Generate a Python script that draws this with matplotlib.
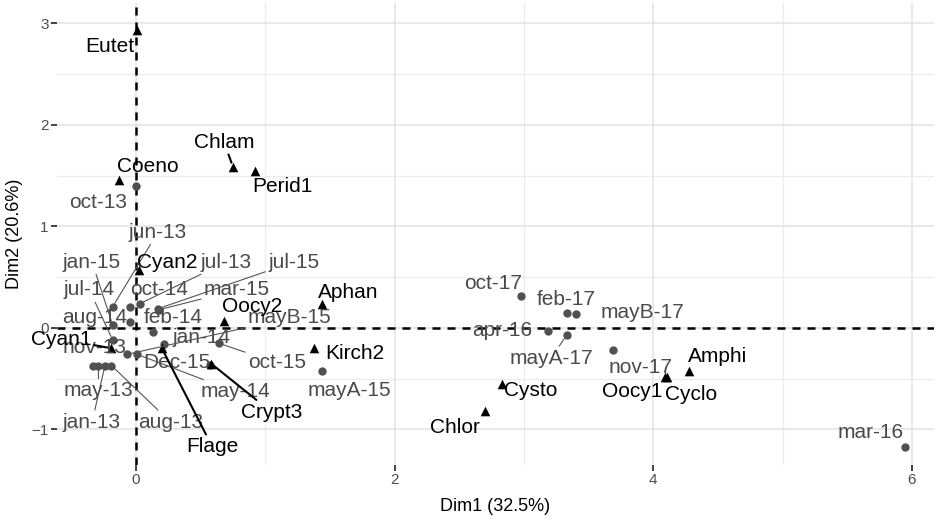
import matplotlib
matplotlib.use("Agg")
import matplotlib.pyplot as plt
import numpy as np

# ---------------- data ----------------
date_names = ["oct-13", "jun-13", "jan-15", "jul-14", "aug-14", "oct-14", "jul-13",
              "mar-15", "jul-15", "feb-14", "jan-14", "nov-13", "may-13", "jan-13",
              "aug-13", "Dec-15", "may-14", "mayB-15", "oct-15", "mayA-15",
              "oct-17", "feb-17", "mayB-17", "apr-16", "mayA-17", "nov-17", "mar-16"]
date_x = [0.00, -0.18, -0.18, -0.18, -0.05, -0.05, 0.03,
          0.18, 0.17, 0.13, 0.22, -0.33, -0.29, -0.24,
          -0.19, 0.57, 0.01, -0.07, 0.64, 1.44,
          2.98, 3.33, 3.40, 3.19, 3.33, 3.69, 5.95]
date_y = [1.40, 0.21, 0.03, -0.12, 0.06, 0.21, 0.24,
          0.18, 0.19, -0.04, -0.16, -0.37, -0.37, -0.37,
          -0.37, -0.36, -0.26, -0.26, -0.15, -0.42,
          0.32, 0.15, 0.14, -0.03, -0.07, -0.22, -1.17]

sp_names = ["Eutet", "Chlam", "Perid1", "Coeno", "Cyan2", "Oocy2", "Aphan", "Kirch2",
            "Cyan1", "Flage", "Crypt3", "Cysto", "Chlor", "Oocy1", "Cyclo", "Amphi"]
sp_x = [0.005, 0.75, 0.92, -0.13, 0.02, 0.68, 1.44, 1.38,
        -0.19, 0.20, 0.58, 2.83, 2.70, 4.09, 4.11, 4.28]
sp_y = [2.94, 1.59, 1.55, 1.46, 0.57, 0.07, 0.24, -0.20,
        -0.20, -0.20, -0.35, -0.55, -0.82, -0.48, -0.48, -0.42]

x_title = "Dim1 (32.5%)"
y_title = "Dim2 (20.6%)"
x_ticks = [0, 2, 4, 6]
y_ticks = [-1, 0, 1, 2, 3]

# ---------------- layout (label placement, like ggrepel) ----------------
date_lab = {"oct-13": (-0.29, 1.24), "jun-13": (0.17, 0.945), "jan-15": (-0.34, 0.65),
            "jul-14": (-0.36, 0.375), "aug-14": (-0.32, 0.10), "oct-14": (0.18, 0.375),
            "jul-13": (0.70, 0.65), "mar-15": (0.78, 0.375), "jul-15": (1.22, 0.65),
            "feb-14": (0.29, 0.10), "jan-14": (0.51, -0.09), "nov-13": (-0.32, -0.19),
            "may-13": (-0.29, -0.62), "jan-13": (-0.34, -0.93), "aug-13": (0.27, -0.93),
            "Dec-15": (0.32, -0.345), "may-14": (0.77, -0.63), "mayB-15": (1.19, 0.10),
            "oct-15": (1.09, -0.345), "mayA-15": (1.65, -0.62), "oct-17": (2.76, 0.44),
            "feb-17": (3.33, 0.285), "mayB-17": (3.92, 0.15), "apr-16": (2.83, -0.02),
            "mayA-17": (3.21, -0.30), "nov-17": (3.90, -0.385), "mar-16": (5.68, -1.03)}
sp_lab = {"Eutet": (-0.205, 2.77), "Chlam": (0.68, 1.83), "Perid1": (1.13, 1.39),
          "Coeno": (0.09, 1.59), "Cyan2": (0.24, 0.65), "Oocy2": (0.90, 0.21),
          "Aphan": (1.64, 0.345), "Kirch2": (1.69, -0.25), "Cyan1": (-0.58, -0.11),
          "Flage": (0.59, -1.17), "Crypt3": (1.05, -0.83), "Cysto": (3.05, -0.62),
          "Chlor": (2.47, -0.985), "Oocy1": (3.84, -0.63), "Cyclo": (4.29, -0.66),
          "Amphi": (4.50, -0.285)}
with_segment = {"jun-13", "jan-15", "jul-14", "jul-13", "jul-15", "mar-15",
                "may-13", "jan-13", "aug-13", "may-14", "mayB-15", "oct-15",
                "mayA-17", "Chlam", "Cyan1", "Flage", "Crypt3"}

W, H, DPI = 939, 520, 100
xlim = (-0.61, 6.17)
ylim = (-1.35, 3.2)

plt.rcParams["font.family"] = ["Liberation Sans", "DejaVu Sans"]
fig = plt.figure(figsize=(W / DPI, H / DPI), dpi=DPI)
ax = fig.add_axes([57.1 / W, 55 / H, (933.8 - 57.1) / W, (465 - 3.2) / H])

for s in ["top", "right", "bottom", "left"]:
    ax.spines[s].set_visible(False)
ax.set_xticks(x_ticks)
ax.set_yticks(y_ticks)
ax.set_xticks(np.arange(-1, 7, 1), minor=True)
ax.set_yticks(np.arange(-1.5, 3.5, 0.5), minor=True)
ax.set_xlim(*xlim)
ax.set_ylim(*ylim)
ax.grid(True, which="major", color="#e3e3e3", lw=1.1, zorder=0)
ax.grid(True, which="minor", color="#ececec", lw=0.9, zorder=0)
ax.set_axisbelow(True)
ax.tick_params(which="minor", length=0)
ax.tick_params(which="major", length=4, width=1.3, color="#333333",
               labelsize=11, labelcolor="#4d4d4d", pad=2)

ax.axhline(0, color="black", lw=1.8, ls=(0, (3.2, 2.8)), zorder=2)
ax.axvline(0, color="black", lw=1.8, ls=(0, (3.2, 2.8)), zorder=2)

ax.scatter(date_x, date_y, s=36, color="#505050", zorder=4, linewidths=0)
ax.scatter(sp_x, sp_y, s=48, marker="^", color="black", zorder=5, linewidths=0)


def label(name, px, py, pos, color, lcolor, lw):
    tx, ty = pos
    if name in with_segment:
        ax.annotate(name, xy=(px, py), xytext=(tx, ty), ha="center", va="center",
                    fontsize=15, color=color, zorder=6,
                    arrowprops=dict(arrowstyle="-", color=lcolor, lw=lw,
                                    shrinkA=0, shrinkB=3))
    else:
        ax.text(tx, ty, name, ha="center", va="center", fontsize=15,
                color=color, zorder=6)


for n, x, y in zip(date_names, date_x, date_y):
    label(n, x, y, date_lab[n], "#4a4a4a", "#555555", 0.8)
for n, x, y in zip(sp_names, sp_x, sp_y):
    label(n, x, y, sp_lab[n], "black", "black", 1.5)

ax.set_xlabel(x_title, fontsize=13, color="black", labelpad=8)
ax.set_ylabel(y_title, fontsize=13, color="black", labelpad=6)

fig.savefig("out.png", dpi=DPI, facecolor="white")
